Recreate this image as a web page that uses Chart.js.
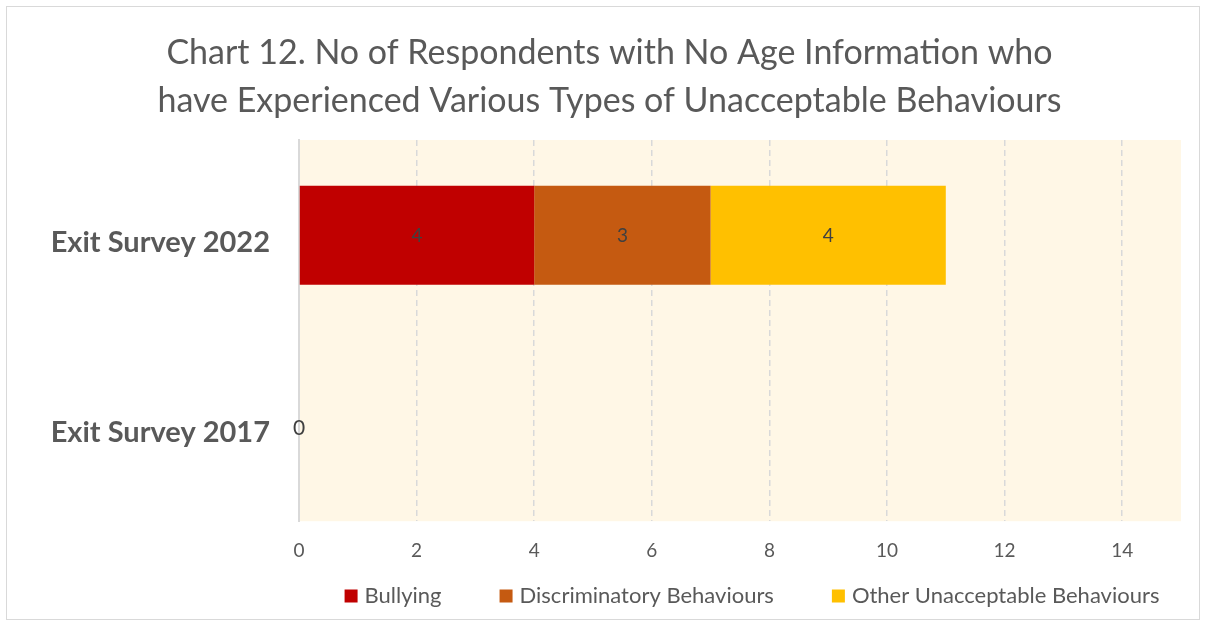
<!DOCTYPE html>
<html>
<head>
<meta charset="utf-8">
<script src="https://cdn.jsdelivr.net/npm/chart.js@4.4.0/dist/chart.umd.min.js"></script>
<style>
  html, body { margin: 0; padding: 0; background: #fff; }
  #wrap { position: relative; width: 1209px; height: 630px; }
</style>
</head>
<body>
<div id="wrap"><canvas id="myChart" width="1209" height="630"></canvas></div>
<script>
// chart data
const categories = ['Exit Survey 2022', 'Exit Survey 2017'];
const bullying = [4, 0];
const discriminatory = [3, null];
const otherBehaviours = [4, null];
const tickValues = [0, 2, 4, 6, 8, 10, 12, 14];

const fontFamily = 'Lato, "Open Sans", sans-serif';
const textColor = '#595959';

// cream plot area + outer frame
const backgroundPlugin = {
    id: 'backgroundPlugin',
    beforeDraw(chart) {
        const { ctx, chartArea } = chart;
        ctx.save();
        ctx.fillStyle = '#FFF7E6';
        ctx.fillRect(chartArea.left, chartArea.top, chartArea.right - chartArea.left, chartArea.bottom - chartArea.top);
        ctx.strokeStyle = '#d9d9d9';
        ctx.lineWidth = 1;
        ctx.strokeRect(6.5, 6.5, 1193, 613);
        ctx.restore();
    }
};

// value labels in the middle of each segment
const valueLabels = {
    id: 'valueLabels',
    afterDatasetsDraw(chart) {
        const { ctx } = chart;
        ctx.save();
        ctx.fillStyle = '#404040';
        ctx.textAlign = 'center';
        ctx.textBaseline = 'middle';
        chart.data.datasets.forEach((ds, i) => {
            const meta = chart.getDatasetMeta(i);
            meta.data.forEach((bar, j) => {
                const v = ds.data[j];
                if (v === null || v === undefined) return;
                const p = bar.getProps(['x', 'y', 'base'], true);
                const x = (p.x + p.base) / 2;
                if (v === 0) {
                    ctx.font = '21px ' + fontFamily;
                    ctx.fillText(String(v), x, p.y + 2);
                } else {
                    ctx.font = '19px ' + fontFamily;
                    ctx.fillText(String(v), x, p.y + 1);
                }
            });
        });
        ctx.restore();
    }
};

// legend drawn by hand so the spacing matches the original
const bottomLegend = {
    id: 'bottomLegend',
    afterDraw(chart) {
        const { ctx, chartArea } = chart;
        const box = 13, gapText = 7, gapItem = 58, y = 596;
        ctx.save();
        ctx.font = '22px ' + fontFamily;
        ctx.textBaseline = 'middle';
        const items = chart.data.datasets.map(ds => ({
            text: ds.label, color: ds.backgroundColor, w: ctx.measureText(ds.label).width
        }));
        const total = items.reduce((s, it) => s + box + gapText + it.w, 0) + gapItem * (items.length - 1);
        let x = (chartArea.left + chartArea.right) / 2 + 12 - total / 2;
        items.forEach(it => {
            ctx.fillStyle = it.color;
            ctx.fillRect(x, y - box / 2, box, box);
            ctx.fillStyle = textColor;
            ctx.fillText(it.text, x + box + gapText, y);
            x += box + gapText + it.w + gapItem;
        });
        ctx.restore();
    }
};

const ctx = document.getElementById('myChart');
new Chart(ctx, {
    type: 'bar',
    data: {
        labels: categories,
        datasets: [
            { label: 'Bullying', data: bullying, backgroundColor: '#C00000' },
            { label: 'Discriminatory Behaviours', data: discriminatory, backgroundColor: '#C55A11' },
            { label: 'Other Unacceptable Behaviours', data: otherBehaviours, backgroundColor: '#FFC000' }
        ]
    },
    options: {
        indexAxis: 'y',
        responsive: false,
        animation: false,
        datasets: {
            bar: { categoryPercentage: 0.52, barPercentage: 1, borderWidth: 0 }
        },
        layout: { padding: { left: 38, right: 28, top: 0, bottom: 50 } },
        scales: {
            x: {
                stacked: true,
                min: 0,
                max: 15,
                afterBuildTicks(scale) {
                    scale.ticks = tickValues.map(v => ({ value: v }));
                },
                grid: {
                    color: '#d9d9d9',
                    lineWidth: 1.5,
                    drawTicks: false
                },
                border: { display: false, dash: [6, 4] },
                ticks: {
                    color: textColor,
                    padding: 18,
                    font: { family: fontFamily, size: 19 }
                }
            },
            y: {
                stacked: true,
                afterFit(scale) { scale.width = 261; },
                grid: { display: false, drawTicks: false },
                border: { display: true, color: '#d9d9d9', width: 2 },
                ticks: {
                    color: textColor,
                    padding: 29,
                    labelOffset: 7,
                    font: { family: fontFamily, size: 29, weight: 'bold' }
                }
            }
        },
        plugins: {
            title: {
                display: true,
                text: ['Chart 12. No of Respondents with No Age Information who',
                       'have Experienced Various Types of Unacceptable Behaviours'],
                color: textColor,
                font: { family: fontFamily, size: 34, weight: 'normal', lineHeight: 48 / 34 },
                padding: { top: 29, bottom: 15 }
            },
            legend: { display: false },
            tooltip: { enabled: false }
        }
    },
    plugins: [backgroundPlugin, valueLabels, bottomLegend]
});
</script>
</body>
</html>
